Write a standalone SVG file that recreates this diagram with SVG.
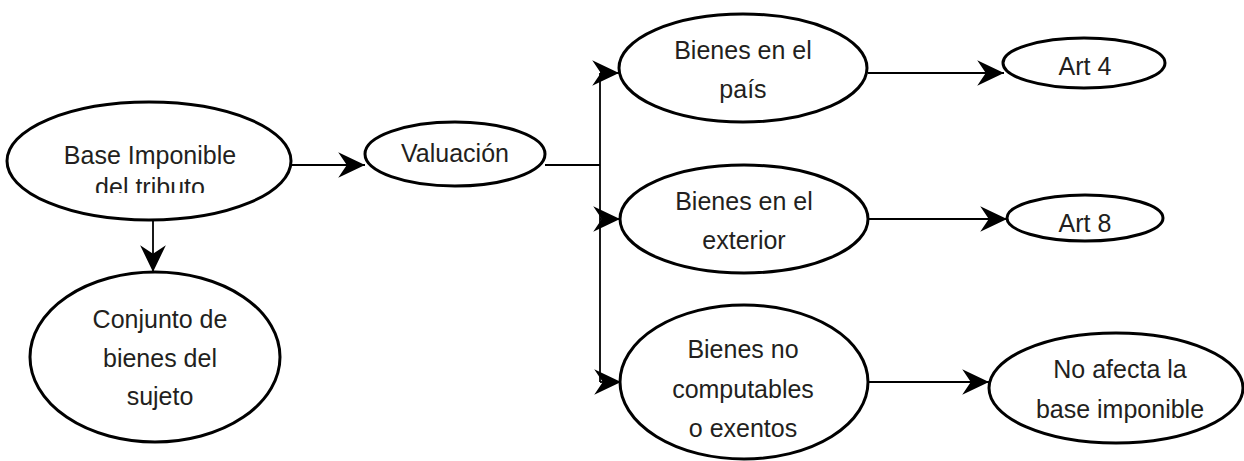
<svg xmlns="http://www.w3.org/2000/svg" width="1244" height="461" viewBox="0 0 1244 461">
  <style>
    .node ellipse { fill: #ffffff; stroke: #000000; stroke-width: 3; }
    .node text { font-family: "Liberation Sans", Arial, sans-serif; font-size: 25px; fill: #231f20; text-anchor: middle; }
    #connectors line, #connectors polyline { stroke: #000000; stroke-width: 1.8; fill: none; }
    .arrow { marker-end: url(#stealth); }
  </style>
  <defs>
    <marker id="stealth" markerUnits="userSpaceOnUse" markerWidth="30" markerHeight="30" viewBox="-26 -13 28 26" refX="0" refY="0" orient="auto">
      <path d="M0,0 L-25,-12 L-17,0 L-25,12 Z" fill="#000000"/>
    </marker>
    <clipPath id="clipBase">
      <rect x="0" y="0" width="320" height="193"/>
    </clipPath>
  </defs>
  <rect width="1244" height="461" fill="#ffffff"/>

  <g id="connectors">
    <line class="arrow" x1="291" y1="165" x2="365" y2="165"/>
    <line class="arrow" x1="153" y1="220" x2="153" y2="272"/>
    <polyline points="545,165 600,165"/>
    <line x1="600" y1="73" x2="600" y2="382"/>
    <line class="arrow" x1="600" y1="73" x2="619" y2="73"/>
    <line class="arrow" x1="600" y1="219" x2="620" y2="219"/>
    <line class="arrow" x1="600" y1="382" x2="621" y2="382"/>
    <line class="arrow" x1="868" y1="73" x2="1004" y2="73"/>
    <line class="arrow" x1="868" y1="219" x2="1007" y2="219"/>
    <line class="arrow" x1="868" y1="382" x2="989" y2="382"/>
  </g>

  <g id="node-base" class="node">
    <ellipse cx="149" cy="161" rx="142" ry="59"/>
    <text x="150" y="164">Base Imponible</text>
    <text x="150" y="196" clip-path="url(#clipBase)">del tributo</text>
  </g>

  <g id="node-conjunto" class="node">
    <ellipse cx="155" cy="357" rx="125" ry="85"/>
    <text x="160" y="328">Conjunto de</text>
    <text x="160" y="367">bienes del</text>
    <text x="160" y="405">sujeto</text>
  </g>

  <g id="node-valuacion" class="node">
    <ellipse cx="455" cy="154" rx="90" ry="32"/>
    <text x="455" y="162">Valuación</text>
  </g>

  <g id="node-pais" class="node">
    <ellipse cx="743" cy="68" rx="124" ry="54"/>
    <text x="743" y="59">Bienes en el</text>
    <text x="743" y="98">país</text>
  </g>

  <g id="node-exterior" class="node">
    <ellipse cx="744" cy="219" rx="124" ry="54"/>
    <text x="744" y="210">Bienes en el</text>
    <text x="744" y="249">exterior</text>
  </g>

  <g id="node-nocomp" class="node">
    <ellipse cx="744" cy="382" rx="124" ry="77"/>
    <text x="743" y="358">Bienes no</text>
    <text x="743" y="398">computables</text>
    <text x="743" y="437">o exentos</text>
  </g>

  <g id="node-art4" class="node">
    <ellipse cx="1084" cy="63" rx="81" ry="25"/>
    <text x="1085" y="75">Art 4</text>
  </g>

  <g id="node-art8" class="node">
    <ellipse cx="1085" cy="218" rx="78" ry="23"/>
    <text x="1085" y="232">Art 8</text>
  </g>

  <g id="node-noafecta" class="node">
    <ellipse cx="1116" cy="388" rx="127" ry="55"/>
    <text x="1120" y="378">No afecta la</text>
    <text x="1120" y="418">base imponible</text>
  </g>
</svg>
